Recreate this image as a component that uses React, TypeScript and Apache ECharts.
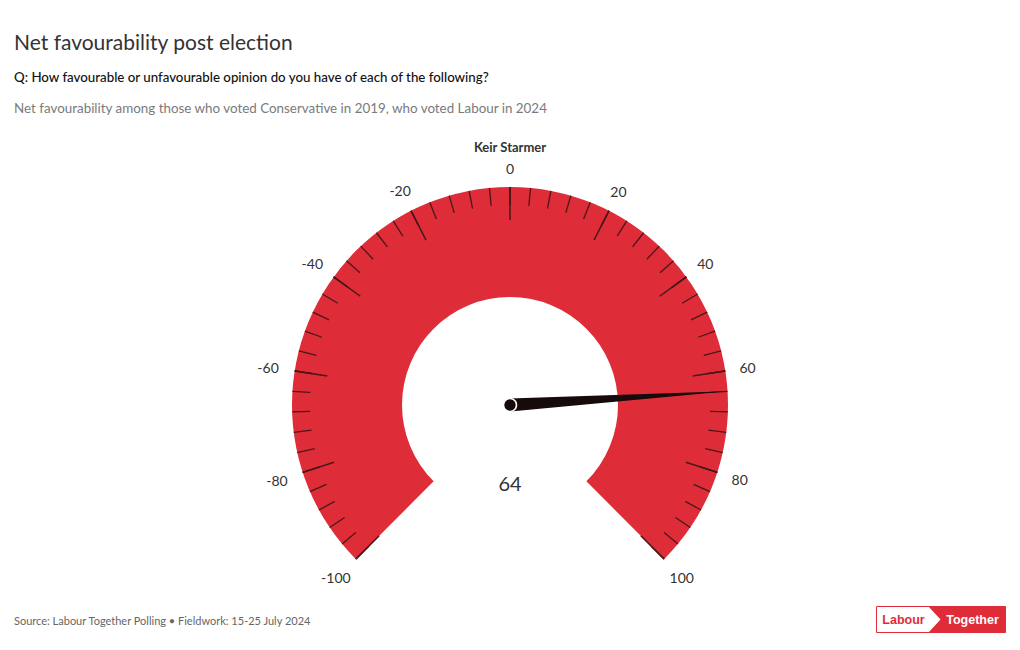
import React, { useEffect, useRef } from "react";
import * as echarts from "echarts";

const gaugeName = "Keir Starmer";
const gaugeValue = 64;
const axisMin = -100;
const axisMax = 100;
const majorSplits = 10;
const minorSplits = 5;

const titleText = "Net favourability post election";
const questionText = "Q: How favourable or unfavourable opinion do you have of each of the following?";
const subtitleText = "Net favourability among those who voted Conservative in 2019, who voted Labour in 2024";
const sourceText = "Source: Labour Together Polling • Fieldwork: 15-25 July 2024";

const RED = "#de2d38";
const TICK = "#4a1718";
const FONT = "Lato, 'Noto Sans', sans-serif";

// per-label padding [top, right, bottom, left] to place tick labels centred around the dial
const labelPadding: Record<string, number[]> = {
  m100: [0, 0, 36, 2],
  m80: [0, 0, 15, 13],
  m60: [10, 0, 0, 14],
  m40: [34, 0, 0, 10],
  m20: [39, 0, 0, 2],
  z0: [52, 0, 0, 0],
  p20: [41, 6, 0, 0],
  p40: [34, 15, 0, 0],
  p60: [10, 21, 0, 0],
  p80: [0, 19, 17, 0],
  p100: [0, 7, 36, 0],
};
const labelKey = (v: number) => (v < 0 ? "m" + -v : v === 0 ? "z0" : "p" + v);

export default function App() {
  const ref = useRef<HTMLDivElement>(null);
  useEffect(() => {
    document.body.style.margin = "0";
    const chart = echarts.init(ref.current!, null, { renderer: "svg" });
    const rich: Record<string, any> = {};
    Object.keys(labelPadding).forEach((k) => {
      rich[k] = { padding: labelPadding[k], fontSize: 14, lineHeight: 14, color: "#333333", fontFamily: FONT };
    });
    chart.setOption({
      animation: false,
      backgroundColor: "#ffffff",
      textStyle: { fontFamily: FONT },
      title: [
        { text: titleText, left: 14, top: 31, padding: 0, textStyle: { fontSize: 21, fontWeight: "normal", color: "#333333", fontFamily: FONT } },
        { text: questionText, left: 14, top: 70, padding: 0, textStyle: { fontSize: 13.3, fontWeight: 500, color: "#111111", fontFamily: FONT } },
        { text: subtitleText, left: 14, top: 101, padding: 0, textStyle: { fontSize: 13.4, fontWeight: "normal", color: "#7a7a7a", fontFamily: FONT } },
        { text: sourceText, left: 14, top: 615, padding: 0, textStyle: { fontSize: 11, fontWeight: "normal", color: "#666666", fontFamily: FONT } },
      ],
      graphic: [
        {
          type: "group",
          left: 876,
          top: 606,
          children: [
            { type: "rect", shape: { x: 0, y: 0, width: 129, height: 26 }, style: { fill: "#ffffff", stroke: RED, lineWidth: 1 } },
            { type: "polygon", shape: { points: [[52, 0], [129, 0], [129, 26], [52, 26], [64, 13]] }, style: { fill: RED } },
            { type: "text", x: 27, y: 13, style: { text: "Labour", fill: RED, fontSize: 12.5, fontWeight: "bold", fontFamily: "Liberation Sans, Arial, sans-serif", align: "center", verticalAlign: "middle" } },
            { type: "text", x: 96, y: 13, style: { text: "Together", fill: "#ffffff", fontSize: 12.5, fontWeight: "bold", fontFamily: "Liberation Sans, Arial, sans-serif", align: "center", verticalAlign: "middle" } },
          ],
        },
      ],
      series: [
        {
          type: "gauge",
          center: [510, 405],
          radius: 218,
          startAngle: 225,
          endAngle: -45,
          min: axisMin,
          max: axisMax,
          splitNumber: majorSplits,
          axisLine: { show: true, roundCap: false, lineStyle: { width: 110, color: [[1, RED]] } },
          progress: { show: false },
          splitLine: { show: true, distance: -110, length: 33, lineStyle: { color: TICK, width: 1.5 } },
          axisTick: { show: true, splitNumber: minorSplits, distance: -110, length: 18, lineStyle: { color: TICK, width: 1.3 } },
          axisLabel: {
            show: true,
            distance: 25,
            color: "#333333",
            fontSize: 14,
            fontFamily: FONT,
            formatter: (v: number) => "{" + labelKey(Math.round(v)) + "|" + Math.round(v) + "}",
            rich,
          },
          pointer: {
            show: true,
            icon: "path://M5,0 L10,100 L0,100 Z",
            length: "100%",
            width: 13,
            offsetCenter: [0, 0],
            keepAspect: false,
            itemStyle: { color: "#170a0a" },
          },
          anchor: { show: true, showAbove: true, size: 13, itemStyle: { color: "#170a0a", borderColor: "#ffffff", borderWidth: 1.5 } },
          title: { show: true, offsetCenter: [0, -258], color: "#333333", fontSize: 13, fontWeight: "bold", fontFamily: FONT },
          detail: { show: true, offsetCenter: [0, 78], color: "#333333", fontSize: 20, fontWeight: "normal", fontFamily: FONT, formatter: "{value}" },
          data: [{ value: gaugeValue, name: gaugeName }],
        },
      ],
    });
    return () => chart.dispose();
  }, []);
  return <div ref={ref} style={{ width: 1020, height: 650 }} />;
}
